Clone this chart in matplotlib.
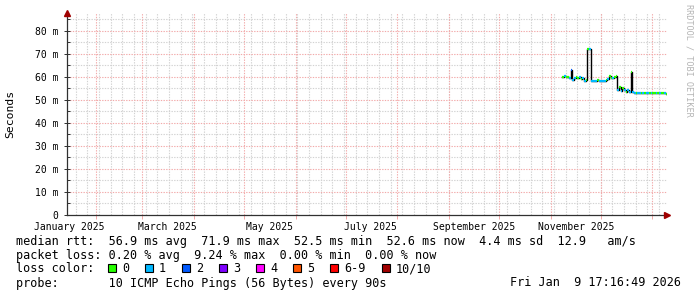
import matplotlib
matplotlib.use("Agg")
import matplotlib.pyplot as plt
import matplotlib.dates as mdates
from matplotlib.collections import LineCollection
from matplotlib.patches import Rectangle
import pandas as pd

MONO = "DejaVu Sans Mono"
W, H = 697, 297

# smokeping "last 360 days" window
END = pd.Timestamp("2026-01-09 17:16:49")
START = END - pd.Timedelta(days=360)

# daily median rtt (ms) from 2025-11-08 on, and loss bucket per day
first_day = "2025-11-08"
median_ms = [
    60.0, 60.1, 59.8, 60.0, 59.6, 63.0, 58.6, 59.5, 59.9, 59.3,   # Nov 8-17
    59.8, 59.0, 59.5, 58.3, 58.6, 72.2, 72.0, 58.3, 58.3, 58.2,   # Nov 18-27
    58.2, 58.4, 58.2, 58.2, 58.3, 58.2, 58.4, 58.8, 60.4, 59.3,   # Nov 28-Dec 7
    59.6, 60.0, 60.2, 54.2, 55.6, 53.8, 55.2, 54.0, 53.5, 54.3,   # Dec 8-17
    53.2, 61.9, 53.4, 52.9, 53.0, 52.8, 53.0, 52.9, 53.0, 52.8,   # Dec 18-27
    53.1, 52.9, 53.0, 52.8, 52.9, 53.0, 52.8, 53.0, 52.9, 53.1,   # Dec 28-Jan 6
    52.8, 52.9, 52.6,                                             # Jan 7-9
]
loss_idx = [
    0, 1, 0, 0, 1, 2, 1, 1, 0, 0,
    1, 0, 1, 1, 0, 0, 1, 1, 1, 1,
    1, 0, 1, 1, 1, 1, 0, 1, 0, 0,
    1, 0, 0, 1, 0, 1, 0, 1, 0, 1,
    1, 0, 1, 1, 0, 1, 1, 0, 1, 0,
    1, 1, 0, 1, 0, 0, 1, 0, 1, 0,
    0, 1, 0,
]

loss_labels = ["0", "1", "2", "3", "4", "5", "6-9", "10/10"]
loss_colors = ["#26ff00", "#00b8ff", "#0059ff", "#7e00ff",
               "#ff00ff", "#ff5500", "#ff0000", "#a10000"]
loss_swatch_x = [108, 145, 182, 219, 256, 293, 330, 382]

y_major = [0, 10, 20, 30, 40, 50, 60, 70, 80]
y_minor = [5, 15, 25, 35, 45, 55, 65, 75, 85]

rtt_line = "median rtt:  56.9 ms avg  71.9 ms max  52.5 ms min  52.6 ms now  4.4 ms sd  12.9   am/s"
loss_line = "packet loss: 0.20 % avg  9.24 % max  0.00 % min  0.00 % now"
probe_line = "probe:       10 ICMP Echo Pings (56 Bytes) every 90s"
stamp = "Fri Jan  9 17:16:49 2026"

GRID = "#d2d2d2"
MGRID = "#f2aaaa"
AXIS = "#303030"
ARROW = "#a00000"


def fx(x):
    return x / W


def fy(y):
    return 1 - y / H


fig = plt.figure(figsize=(W / 100, H / 100), dpi=100)
ax = fig.add_axes([fx(67), fy(215), 600 / W, 202 / H])
ax.set_xlim(START, END)
ax.set_ylim(0, 87.6)

# grid: weekly / 5 ms grey, monthly / 10 ms red, dotted
grid_kw = dict(lw=0.8, ls=(0, (1.2, 1.2)))
for d in mdates.WeekdayLocator(byweekday=mdates.MO).tick_values(START, END):
    ax.axvline(d, color=GRID, zorder=1, **grid_kw)
for v in y_minor:
    ax.axhline(v, color=GRID, zorder=1, **grid_kw)
months = mdates.MonthLocator().tick_values(START, END)
for d in months:
    ax.axvline(d, color=MGRID, zorder=1.5, **grid_kw)
for v in y_major[1:]:
    ax.axhline(v, color=MGRID, zorder=1.5, **grid_kw)

# median line: dark jumps underneath, loss-coloured steps on top
days = pd.date_range(first_day, periods=len(median_ms), freq="D")
edges = mdates.date2num(list(days) + [END])
ax.step(edges, median_ms + [median_ms[-1]], where="post", color="black", lw=1.0, zorder=3)
segs = [[(edges[i], v), (edges[i + 1], v)] for i, v in enumerate(median_ms)]
ax.add_collection(LineCollection(segs, colors=[loss_colors[k] for k in loss_idx],
                                 linewidths=1.6, capstyle="butt", zorder=4))

# axes / ticks
for s in ("top", "right"):
    ax.spines[s].set_visible(False)
ax.spines["left"].set_color(AXIS)
ax.spines["bottom"].set_color(AXIS)
ax.spines["left"].set_linewidth(0.9)
ax.spines["bottom"].set_linewidth(0.9)
ax.plot([1.0], [0], marker=">", ms=4, color=ARROW, transform=ax.transAxes, clip_on=False, zorder=6)
ax.plot([0], [1.0], marker="^", ms=4, color=ARROW, transform=ax.transAxes, clip_on=False, zorder=6)

ax.set_yticks(y_major)
ax.set_yticklabels(["0" if v == 0 else f"{v} m" for v in y_major])
ax.set_yticks(y_minor, minor=True)
ax.tick_params(axis="y", which="major", direction="inout", length=4, width=0.7,
               color=AXIS, labelsize=7, pad=4)
ax.tick_params(axis="y", which="minor", direction="in", length=2, width=0.7, color=AXIS)

label_months = mdates.MonthLocator(bymonth=[1, 3, 5, 7, 9, 11], bymonthday=16)
ax.xaxis.set_major_locator(label_months)
ax.xaxis.set_major_formatter(mdates.DateFormatter("%B %Y"))
ax.set_xticks(months, minor=True)
ax.tick_params(axis="x", which="major", length=0, labelsize=7, pad=5)
ax.tick_params(axis="x", which="minor", direction="out", length=3, width=0.7, color=MGRID)
for lab in ax.get_xticklabels() + ax.get_yticklabels():
    lab.set_fontfamily(MONO)

fig.text(fx(10), fy(114), "Seconds", rotation=90, ha="center", va="center",
         family=MONO, fontsize=8.2)
fig.text(fx(689), fy(60), "RRDTOOL / TOBI OETIKER", rotation=270, ha="center", va="center",
         family=MONO, fontsize=6.1, color="#b4b4b4")

# legend block
fs = 8.5
fig.text(fx(16), fy(241.5), rtt_line, family=MONO, fontsize=fs, va="center")
fig.text(fx(16), fy(255.5), loss_line, family=MONO, fontsize=fs, va="center")
fig.text(fx(16), fy(269), "loss color:", family=MONO, fontsize=fs, va="center")
for x, lab, c in zip(loss_swatch_x, loss_labels, loss_colors):
    fig.add_artist(Rectangle((fx(x), fy(271.5)), 8 / W, 8 / H, transform=fig.transFigure,
                             facecolor=c, edgecolor="black", lw=0.8))
    fig.text(fx(x + 14), fy(269), lab, family=MONO, fontsize=fs, va="center")
fig.text(fx(16), fy(283), probe_line, family=MONO, fontsize=fs, va="center")
fig.text(fx(681), fy(283), stamp, family=MONO, fontsize=fs, va="center", ha="right")

fig.savefig("out.png", dpi=100, facecolor="white")
